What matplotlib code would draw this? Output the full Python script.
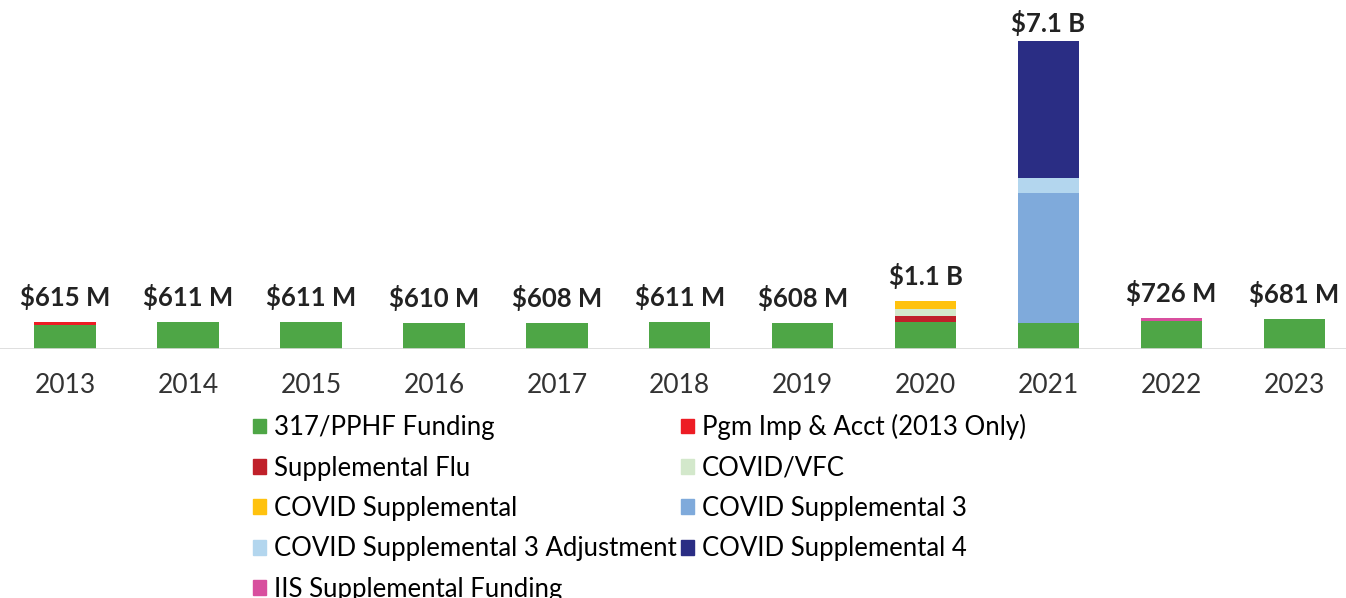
import numpy as np
import matplotlib.pyplot as plt
from matplotlib.patches import Patch

plt.rcParams['font.family'] = ['Lato', 'DejaVu Sans']

years = ['2013', '2014', '2015', '2016', '2017', '2018', '2019', '2020', '2021', '2022', '2023']
totals = ['$615 M', '$611 M', '$611 M', '$610 M', '$608 M', '$611 M', '$608 M', '$1.1 B', '$7.1 B', '$726 M', '$681 M']

# values in billions
pphf       = [0.545, 0.611, 0.611, 0.610, 0.608, 0.611, 0.608, 0.611, 0.600, 0.646, 0.681]
pgm_imp    = [0.070, 0, 0, 0, 0, 0, 0, 0, 0, 0, 0]
supp_flu   = [0, 0, 0, 0, 0, 0, 0, 0.140, 0, 0, 0]
covid_vfc  = [0, 0, 0, 0, 0, 0, 0, 0.175, 0, 0, 0]
covid_supp = [0, 0, 0, 0, 0, 0, 0, 0.175, 0, 0, 0]
supp3      = [0, 0, 0, 0, 0, 0, 0, 0, 3.000, 0, 0]
supp3_adj  = [0, 0, 0, 0, 0, 0, 0, 0, 0.350, 0, 0]
supp4      = [0, 0, 0, 0, 0, 0, 0, 0, 3.150, 0, 0]
iis        = [0, 0, 0, 0, 0, 0, 0, 0, 0, 0.080, 0]

series = [
    ('317/PPHF Funding', pphf, '#4ea646'),
    ('Pgm Imp & Acct (2013 Only)', pgm_imp, '#ed1c24'),
    ('Supplemental Flu', supp_flu, '#c0202a'),
    ('COVID/VFC', covid_vfc, '#d3e8cb'),
    ('COVID Supplemental', covid_supp, '#ffc20e'),
    ('COVID Supplemental 3', supp3, '#7faadb'),
    ('COVID Supplemental 3 Adjustment', supp3_adj, '#b3d6ee'),
    ('COVID Supplemental 4', supp4, '#2a2d84'),
    ('IIS Supplemental Funding', iis, '#d84f9e'),
]

fig = plt.figure(figsize=(13.46, 5.98), dpi=100)
ax = fig.add_axes([0, (598 - 349) / 598, 1, 347 / 598])

x = np.arange(len(years))
bottom = np.zeros(len(years))
for name, vals, col in series:
    v = np.array(vals)
    ax.bar(x, v, 0.5, bottom=bottom, color=col, label=name)
    bottom += v

for i, lab in enumerate(totals):
    off = 18 if bottom[i] > 5 else 25
    ax.annotate(lab, (x[i], bottom[i]), xytext=(0, off * 0.72), textcoords='offset points',
                ha='center', va='center', fontsize=18.5, fontweight='bold', color='#222222')

ax.axhline(0, color='#d9d9d9', lw=1.2)
ax.set_xlim(-0.53, 10.42)
ax.set_ylim(0, 8)
ax.set_xticks(x)
ax.set_xticklabels(years, fontsize=19, color='#333333')
ax.tick_params(axis='x', length=0, pad=17)
ax.set_yticks([])
for s in ax.spines.values():
    s.set_visible(False)

order = [0, 2, 4, 6, 8, 1, 3, 5, 7]
handles = [Patch(color=series[k][2]) for k in order]
labels = [series[k][0] for k in order]
fig.legend(handles, labels, ncol=2, loc='upper left',
           bbox_to_anchor=(253 / 1346, (598 - 414) / 598),
           frameon=False, fontsize=18.5, handlelength=0.5, handleheight=0.5,
           handletextpad=0.3, labelspacing=0.6, columnspacing=0.2,
           borderpad=0, borderaxespad=0)

fig.savefig('out.png', dpi=100)
